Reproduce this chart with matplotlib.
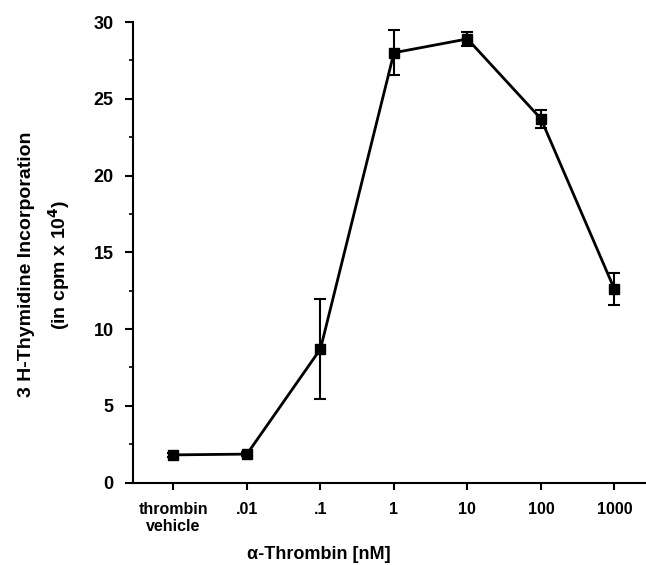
import matplotlib.pyplot as plt
import numpy as np
from matplotlib.ticker import MultipleLocator

plt.rcParams['font.family'] = ['Liberation Sans', 'DejaVu Sans']
plt.rcParams['font.weight'] = 'bold'
plt.rcParams['mathtext.default'] = 'bf'

# data
labels = ["thrombin\nvehicle", ".01", ".1", "1", "10", "100", "1000"]
uptake = [1.8, 1.85, 8.7, 28.0, 28.9, 23.7, 12.6]
err = [0.15, 0.15, 3.25, 1.45, 0.45, 0.6, 1.05]

x = np.arange(len(labels))

fig = plt.figure(figsize=(6.46, 5.65), dpi=100)
ax = fig.add_axes([0.206, 0.146, 0.794, 0.815])

ax.errorbar(x, uptake, yerr=err, color="black", marker="s", markersize=6.5,
            linewidth=2, elinewidth=1.5, capsize=4, capthick=1.5)

ax.set_xlim(-0.55, 6.43)
ax.set_ylim(0, 30)
ax.set_xticks(x)
ax.set_xticklabels(labels, fontsize=11.5, fontweight="bold", linespacing=1.15)
ax.yaxis.set_major_locator(MultipleLocator(5))
ax.yaxis.set_minor_locator(MultipleLocator(2.5))
ax.tick_params(axis="y", labelsize=13, width=1.5, length=6, pad=8)
ax.tick_params(axis="y", which="minor", width=1.2, length=3)
ax.tick_params(axis="x", width=1.5, length=5, pad=9)

ax.spines["top"].set_visible(False)
ax.spines["right"].set_visible(False)
ax.spines["left"].set_linewidth(1.5)
ax.spines["bottom"].set_linewidth(1.5)

fig.text(0.494, 0.018, "α-Thrombin [nM]", fontsize=13, fontweight="bold",
         ha="center", va="center")
ax.set_ylabel("3 H-Thymidine Incorporation\n(in cpm x 10$^{4}$)", fontsize=14,
              fontweight="bold", linespacing=1.55)
ax.yaxis.set_label_coords(-0.12, 0.473)

fig.savefig("out.png", dpi=100)
